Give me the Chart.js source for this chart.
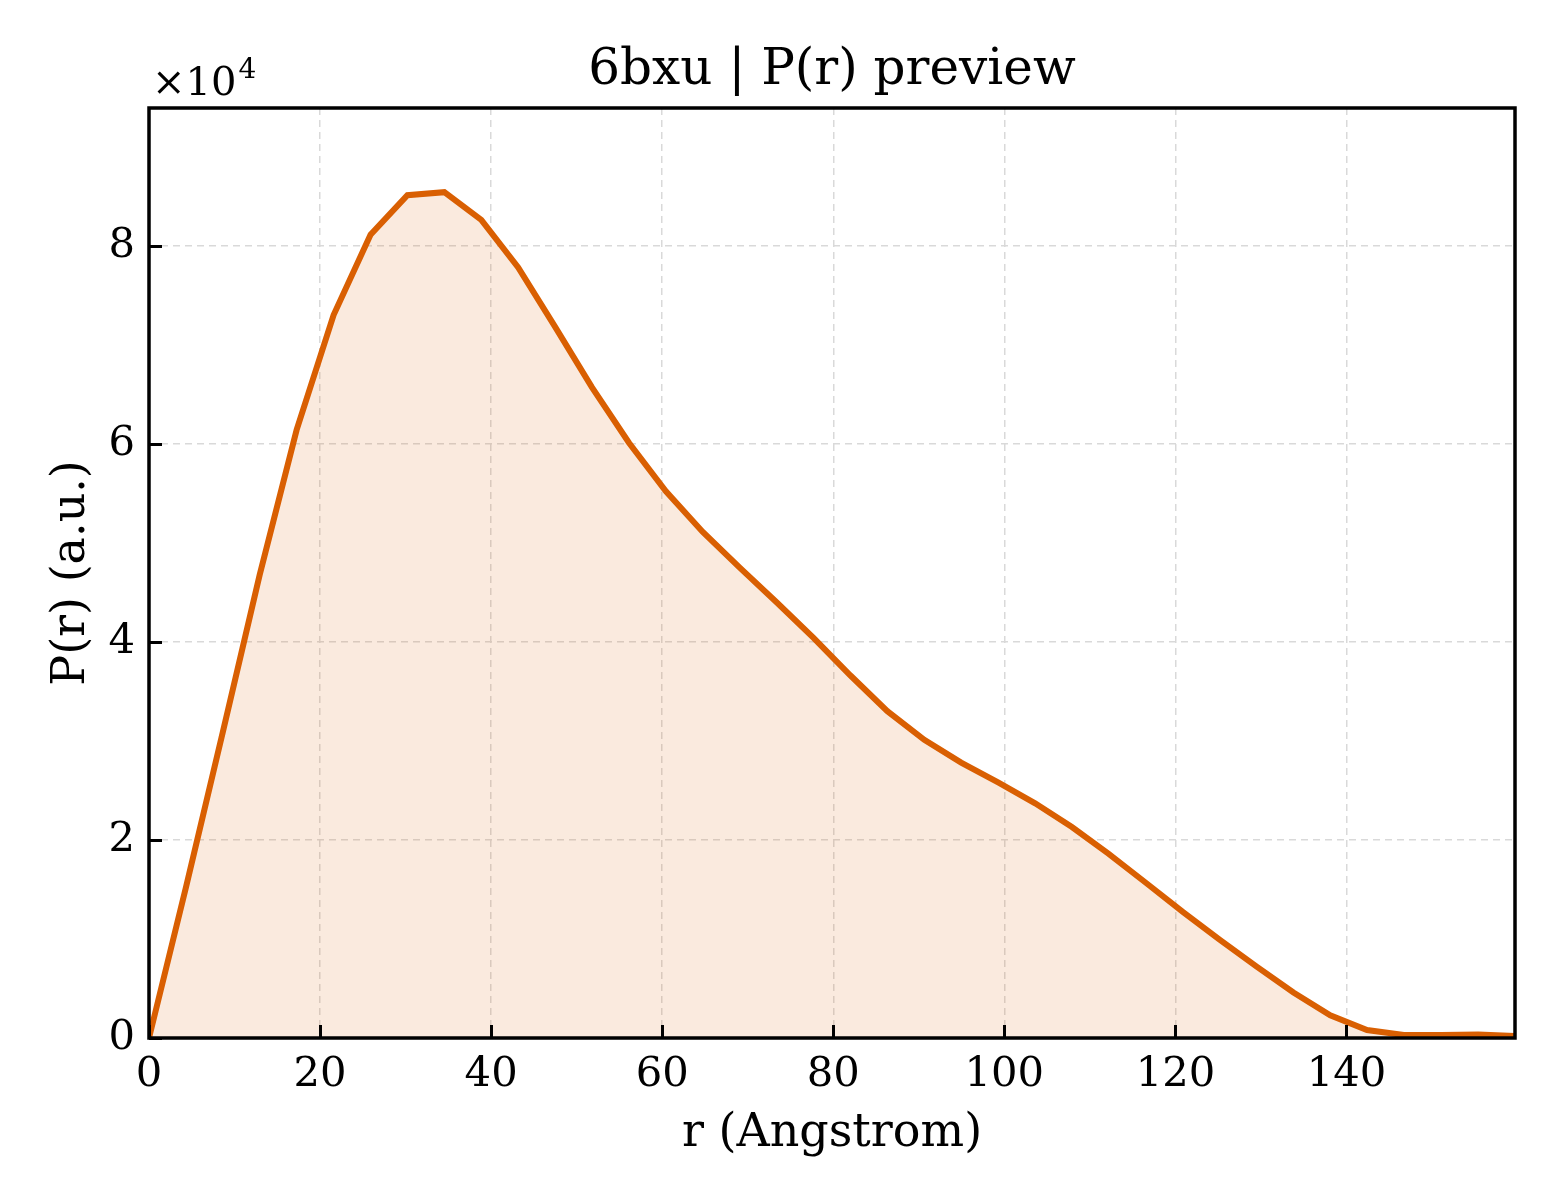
<!DOCTYPE html>
<html>
<head>
<meta charset="utf-8">
<script src="https://cdn.jsdelivr.net/npm/chart.js@4/dist/chart.umd.min.js"></script>
<style>
html,body{margin:0;padding:0;background:#fff;}
#wrap{width:1560px;height:1200px;position:relative;}
canvas{display:block;}
</style>
</head>
<body>
<div id="wrap"><canvas id="c" width="1560" height="1200"></canvas></div>
<script>
// ---- data ----
const rValues = [0, 4.316, 8.632, 12.95, 17.26, 21.58, 25.9, 30.21, 34.53, 38.85,
  43.16, 47.48, 51.79, 56.11, 60.43, 64.74, 69.06, 73.37, 77.69, 82.01,
  86.32, 90.64, 94.95, 99.27, 103.6, 107.9, 112.2, 116.5, 120.9, 125.2,
  129.5, 133.8, 138.1, 142.4, 146.7, 151.1, 155.4, 159.7];
const pValues = [0, 15200, 30900, 46800, 61400, 73000, 81100, 85100, 85400, 82600,
  77800, 71800, 65700, 60100, 55200, 51100, 47500, 44000, 40400, 36600,
  33000, 30100, 27800, 25800, 23700, 21300, 18600, 15700, 12700, 9900,
  7200, 4600, 2300, 800, 300, 300, 350, 200];
const xTicks = [0, 20, 40, 60, 80, 100, 120, 140];
const yTicks = [0, 20000, 40000, 60000, 80000];
const yScaleFactor = 10000;
const titleText = '6bxu | P(r) preview';
const xLabel = 'r (Angstrom)';
const yLabel = 'P(r) (a.u.)';

const FONT = "'DejaVu Serif', 'Liberation Serif', serif";
const lineColor = '#d95f02';

const points = rValues.map((r, i) => ({x: r, y: pValues[i]}));

const decor = {
  id: 'decor',
  afterDraw(chart) {
    const ctx = chart.ctx;
    const a = chart.chartArea;
    const xs = chart.scales.x, ys = chart.scales.y;
    ctx.save();
    // frame
    ctx.strokeStyle = '#000';
    ctx.lineWidth = 3.5;
    ctx.strokeRect(a.left, a.top, a.right - a.left, a.bottom - a.top);
    // inward ticks
    ctx.lineWidth = 3;
    ctx.beginPath();
    xTicks.forEach(v => {
      const px = Math.round(xs.getPixelForValue(v)) + 0.5;
      ctx.moveTo(px, a.bottom);
      ctx.lineTo(px, a.bottom - 13);
    });
    yTicks.forEach(v => {
      const py = Math.round(ys.getPixelForValue(v)) + 0.5;
      ctx.moveTo(a.left, py);
      ctx.lineTo(a.left + 13, py);
    });
    ctx.stroke();
    // texts
    ctx.fillStyle = '#000';
    ctx.font = '50px ' + FONT;
    ctx.textAlign = 'center';
    ctx.textBaseline = 'alphabetic';
    ctx.fillText(titleText, (a.left + a.right) / 2, 84);
    ctx.font = '46px ' + FONT;
    ctx.fillText(xLabel, (a.left + a.right) / 2, 1146);
    ctx.save();
    ctx.translate(84, (a.top + a.bottom) / 2);
    ctx.rotate(-Math.PI / 2);
    ctx.fillText(yLabel, 0, 0);
    ctx.restore();
    // multiplier
    ctx.textAlign = 'left';
    ctx.font = '40px ' + FONT;
    ctx.fillText('\u00d710', 152, 95);
    const w = ctx.measureText('\u00d710').width;
    ctx.font = '28px ' + FONT;
    ctx.fillText('4', 152 + w + 2, 78);
    ctx.restore();
  }
};

new Chart(document.getElementById('c'), {
  type: 'line',
  data: {
    datasets: [{
      data: points,
      borderColor: lineColor,
      backgroundColor: 'rgba(217,95,2,0.13)',
      borderWidth: 6,
      pointRadius: 0,
      tension: 0,
      fill: 'origin',
      borderJoinStyle: 'miter'
    }]
  },
  options: {
    responsive: false,
    animation: false,
    devicePixelRatio: 1,
    layout: {padding: {left: 0, right: 45, top: 108, bottom: 0}},
    plugins: {legend: {display: false}, tooltip: {enabled: false}, title: {display: false}},
    scales: {
      x: {
        type: 'linear',
        min: 0,
        max: rValues[rValues.length - 1],
        afterBuildTicks: s => { s.ticks = xTicks.map(v => ({value: v})); },
        afterFit: s => { s.height = 162; },
        ticks: {
          color: '#000',
          font: {family: FONT, size: 41.7},
          padding: 12,
          maxRotation: 0,
          autoSkip: false,
          callback: v => String(v)
        },
        grid: {color: '#d9d9d9', lineWidth: 1.5, drawTicks: false},
        border: {display: false, dash: [7, 5]}
      },
      y: {
        type: 'linear',
        min: 0,
        max: 93900,
        afterBuildTicks: s => { s.ticks = yTicks.map(v => ({value: v})); },
        afterFit: s => { s.width = 149; },
        ticks: {
          color: '#000',
          font: {family: FONT, size: 41.7},
          padding: 14,
          autoSkip: false,
          callback: v => String(v / yScaleFactor)
        },
        grid: {color: '#d9d9d9', lineWidth: 1.5, drawTicks: false},
        border: {display: false, dash: [7, 5]}
      }
    }
  },
  plugins: [decor]
});
</script>
</body>
</html>
